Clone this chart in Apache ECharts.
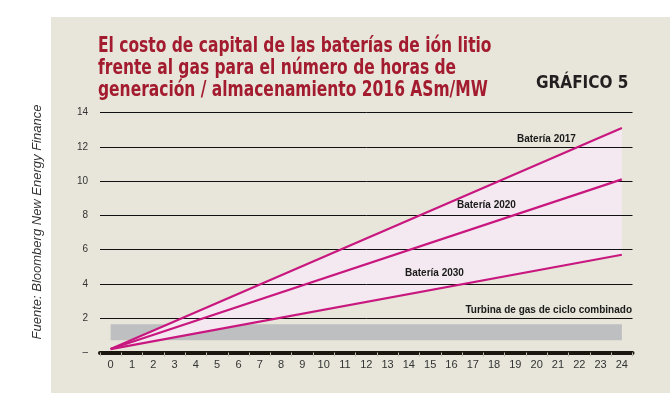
<!DOCTYPE html>
<html>
<head>
<meta charset="utf-8">
<script src="https://cdn.jsdelivr.net/npm/echarts@6/dist/echarts.min.js"></script>
<style>html,body{margin:0;padding:0;background:#fff}#c{width:670px;height:396px}</style>
</head>
<body>
<div id="c"></div>
<script>
// ---- data ----
const hours = ['0','1','2','3','4','5','6','7','8','9','10','11','12','13','14','15','16','17','18','19','20','21','22','23','24'];
const bateria2017 = [0.2, 13.1];   // cost at 0 h and 24 h
const bateria2020 = [0.2, 10.1];
const bateria2030 = [0.2, 5.7];
const gasBand = [0.72, 1.65];      // combined-cycle gas turbine range
const seriesNames = ['Batería 2017', 'Batería 2020', 'Batería 2030'];
const gasName = 'Turbina de gas de ciclo combinado';
const sourceText = 'Fuente: Bloomberg New Energy Finance';

const firstIdx = 0, lastIdx = hours.length - 1;
const pts = arr => [[firstIdx, arr[0]], [lastIdx, arr[1]]];

const MAG = '#c8177f';
const chart = echarts.init(document.getElementById('c'), null, {renderer: 'canvas'});

const lineSeries = (name, arr) => ({
  name, type: 'line', data: pts(arr), symbol: 'none', z: 6,
  lineStyle: {color: MAG, width: 2.2}, silent: true
});
const labelFont = 'bold 10px "Liberation Sans", Arial, sans-serif';

chart.setOption({
  backgroundColor: '#ffffff',
  animation: false,
  graphic: [
    {type: 'rect', z: -10, silent: true, shape: {x: 51, y: 17, width: 619, height: 376}, style: {fill: '#e8e6da'}},
    {type: 'text', x: 98, y: 36, scaleX: 0.82, z: 10, style: {
      text: 'El costo de capital de las baterías de ión litio\nfrente al gas para el número de horas de\ngeneración / almacenamiento 2016 ASm/MW',
      fill: '#a31b2e', font: 'bold 21px "DejaVu Sans Condensed", "Liberation Sans Narrow", sans-serif', lineHeight: 22}},
    {type: 'text', x: 536, y: 75, scaleX: 1.0, z: 10, style: {
      text: 'GRÁFICO 5', fill: '#231f20', font: 'bold 17px "DejaVu Sans Condensed", "Liberation Sans Narrow", sans-serif'}},
    {type: 'text', x: 37, y: 222, rotation: Math.PI / 2, z: 10, style: {
      text: sourceText, fill: '#333', font: 'italic 13px "Liberation Sans", Arial, sans-serif',
      align: 'center', verticalAlign: 'middle'}},
    {type: 'text', left: 517, top: 134, z: 10, style: {text: seriesNames[0], fill: '#1a1a1a', font: labelFont}},
    {type: 'text', left: 457, top: 200, z: 10, style: {text: seriesNames[1], fill: '#1a1a1a', font: labelFont}},
    {type: 'text', left: 405, top: 268, z: 10, style: {text: seriesNames[2], fill: '#1a1a1a', font: labelFont}},
    {type: 'text', right: 38, top: 305, z: 10, style: {text: gasName, fill: '#1a1a1a', font: labelFont}}
  ],
  grid: {left: 100, right: 37.5, top: 112.5, bottom: 43.5, containLabel: false},
  xAxis: {
    type: 'category', data: hours, boundaryGap: true, z: 4,
    axisLine: {lineStyle: {color: '#1c1611', width: 4}},
    axisTick: {show: true, length: 4, lineStyle: {color: '#bdb9ae', width: 1}},
    axisLabel: {color: '#333', fontSize: 11, fontFamily: '"Liberation Sans", Arial, sans-serif', margin: 7, interval: 0},
    splitLine: {show: false}
  },
  yAxis: {
    type: 'value', min: 0, max: 14, interval: 2, z: 3,
    axisLine: {show: false}, axisTick: {show: false},
    axisLabel: {color: '#333', fontSize: 10, fontFamily: '"Liberation Sans", Arial, sans-serif', margin: 12,
      formatter: v => v === 0 ? '–' : String(v)},
    splitLine: {lineStyle: {color: '#111', width: 1}}
  },
  series: [
    {name: 'base', type: 'line', stack: 'fill', data: pts(bateria2030), symbol: 'none', z: 1, silent: true,
      lineStyle: {opacity: 0},
      markArea: {silent: true, itemStyle: {color: '#bebfc1'},
        data: [[{name: gasName, xAxis: hours[firstIdx], yAxis: gasBand[0]}, {xAxis: hours[lastIdx], yAxis: gasBand[1]}]],
        label: {show: false}}},
    {name: 'range', type: 'line', stack: 'fill', symbol: 'none', z: 1, silent: true,
      data: [[firstIdx, bateria2017[0] - bateria2030[0]], [lastIdx, bateria2017[1] - bateria2030[1]]],
      lineStyle: {opacity: 0}, areaStyle: {color: '#f4e9f0', opacity: 1}},
    lineSeries(seriesNames[0], bateria2017),
    lineSeries(seriesNames[1], bateria2020),
    lineSeries(seriesNames[2], bateria2030)
  ]
});
</script>
</body>
</html>
